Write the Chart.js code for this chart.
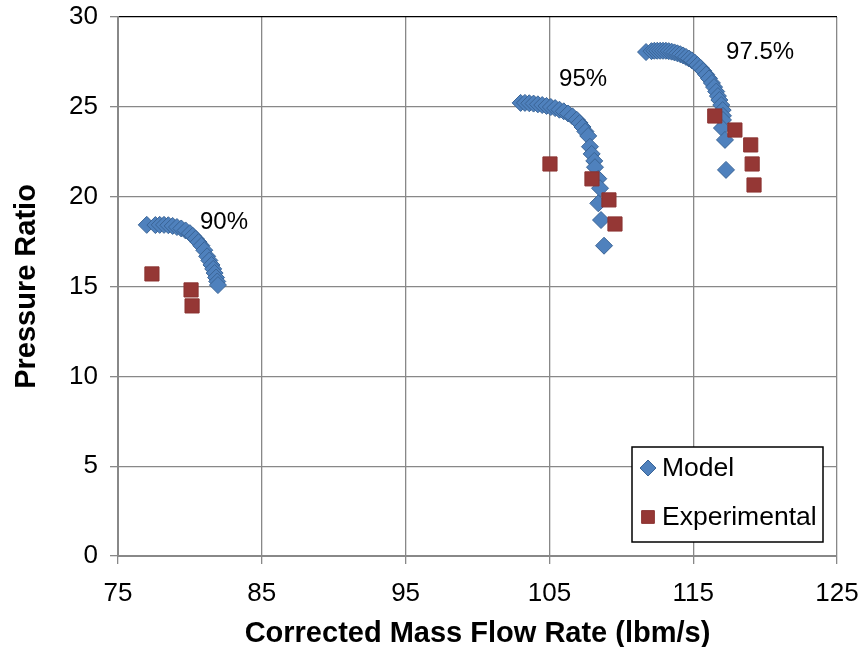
<!DOCTYPE html>
<html><head><meta charset="utf-8">
<script src="https://cdn.jsdelivr.net/npm/chart.js@4/dist/chart.umd.min.js"></script>
<style>html,body{margin:0;padding:0;background:#fff}</style>
</head><body>
<canvas id="c" width="861" height="647"></canvas>
<script>
// ---- Data ----
const model90X = [77.0, 77.6, 77.9, 78.2, 78.5, 78.8, 79.1, 79.4, 79.7, 80.0, 80.2, 80.4, 80.6, 80.8, 81.0, 81.2, 81.35, 81.5, 81.62, 81.72, 81.82, 81.9, 81.95];
const model90Y = [18.43, 18.42, 18.43, 18.43, 18.41, 18.37, 18.31, 18.23, 18.12, 17.97, 17.82, 17.66, 17.47, 17.27, 17.02, 16.68, 16.45, 16.2, 15.98, 15.75, 15.5, 15.28, 15.08];

const model95X = [103.0, 103.3, 103.6, 103.9, 104.2, 104.5, 104.8, 105.1, 105.4, 105.7, 106.0, 106.3, 106.6, 106.9, 107.1, 107.3, 107.5, 107.7, 107.82, 107.94, 108.12, 108.17, 108.4, 108.52, 108.4, 108.59, 108.8];
const model95Y = [25.22, 25.22, 25.2, 25.18, 25.14, 25.1, 25.05, 24.99, 24.93, 24.84, 24.75, 24.63, 24.47, 24.28, 24.1, 23.88, 23.63, 23.38, 22.78, 22.38, 21.99, 21.64, 21.0, 20.47, 19.63, 18.7, 17.27];

const model975X = [111.72, 112.1, 112.3, 112.5, 112.7, 112.9, 113.1, 113.3, 113.5, 113.7, 113.9, 114.1, 114.3, 114.5, 114.7, 114.9, 115.1, 115.3, 115.5, 115.7, 115.9, 116.1, 116.3, 116.45, 116.6, 116.72, 116.82, 116.95, 117.05, 117.07, 117.07, 117.0, 117.21, 117.28];
const model975Y = [28.05, 28.1, 28.12, 28.12, 28.12, 28.12, 28.12, 28.1, 28.07, 28.03, 27.98, 27.93, 27.86, 27.78, 27.69, 27.59, 27.47, 27.33, 27.18, 27.0, 26.8, 26.58, 26.33, 26.1, 25.85, 25.6, 25.38, 25.1, 24.82, 24.5, 24.27, 23.82, 23.16, 21.49];

const expX = [77.36, 80.08, 80.15, 105.04, 107.96, 109.14, 109.56, 116.5, 117.9, 119.0, 119.1, 119.23];
const expY = [15.70, 14.81, 13.92, 21.82, 20.99, 19.82, 18.48, 24.49, 23.71, 22.88, 21.82, 20.65];

const speedLabels = ["90%", "95%", "97.5%"];
const speedLabelX = [82.37, 107.34, 119.65];
const speedLabelY = [18.59, 26.55, 28.05];

const xTicks = [75, 85, 95, 105, 115, 125];
const yTicks = [0, 5, 10, 15, 20, 25, 30];
const seriesNames = ["Model", "Experimental"];

// ---- Build ----
function pts(xs, ys) { return xs.map((x, i) => ({x: x, y: ys[i]})); }
const modelPts = pts(model90X, model90Y).concat(pts(model95X, model95Y), pts(model975X, model975Y));
const expPts = pts(expX, expY);

const FONT = "'Liberation Sans', Arial, sans-serif";
const MODEL_FILL = '#4F81BD', MODEL_BORDER = '#3A6496';
const EXP_FILL = '#953735', EXP_BORDER = '#8A3230';

const overlay = {
  id: 'overlay',
  afterDraw(chart) {
    const ctx = chart.ctx, xs = chart.scales.x, ys = chart.scales.y;
    ctx.save();
    ctx.font = '24px ' + FONT;
    ctx.fillStyle = '#000';
    ctx.textAlign = 'center';
    ctx.textBaseline = 'middle';
    speedLabels.forEach((t, i) => {
      ctx.fillText(t, xs.getPixelForValue(speedLabelX[i]), ys.getPixelForValue(speedLabelY[i]));
    });
    const bx = 632, by = 447, bw = 191, bh = 95;
    ctx.fillStyle = '#fff';
    ctx.fillRect(bx, by, bw, bh);
    ctx.strokeStyle = '#000';
    ctx.lineWidth = 1.5;
    ctx.strokeRect(bx, by, bw, bh);
    ctx.fillStyle = MODEL_FILL; ctx.strokeStyle = MODEL_BORDER; ctx.lineWidth = 1;
    Chart.helpers.drawPoint(ctx, {pointStyle: 'rectRot', radius: 8, rotation: 0, borderWidth: 1}, bx + 16, by + 21);
    ctx.fillStyle = EXP_FILL; ctx.strokeStyle = EXP_BORDER;
    Chart.helpers.drawPoint(ctx, {pointStyle: 'rect', radius: 9, rotation: 0, borderWidth: 1}, bx + 16, by + 70);
    ctx.fillStyle = '#000';
    ctx.font = '26.5px ' + FONT;
    ctx.textAlign = 'left';
    ctx.fillText(seriesNames[0], bx + 30, by + 22);
    ctx.fillText(seriesNames[1], bx + 30, by + 71);
    ctx.restore();
  }
};

new Chart(document.getElementById('c'), {
  type: 'scatter',
  data: {
    datasets: [
      {label: seriesNames[0], data: modelPts, pointStyle: 'rectRot', pointRadius: 8.5, pointHoverRadius: 8.5,
       backgroundColor: MODEL_FILL, borderColor: MODEL_BORDER, borderWidth: 1, order: 2},
      {label: seriesNames[1], data: expPts, pointStyle: 'rect', pointRadius: 10, pointHoverRadius: 10,
       backgroundColor: EXP_FILL, borderColor: EXP_BORDER, borderWidth: 1, order: 1}
    ]
  },
  options: {
    responsive: false,
    animation: false,
    events: [],
    layout: {padding: {top: 17, right: 24, left: 0, bottom: 0}},
    plugins: {legend: {display: false}, tooltip: {enabled: false}},
    scales: {
      x: {
        type: 'linear', min: 75, max: 125,
        afterBuildTicks: s => { s.ticks = xTicks.map(v => ({value: v})); },
        afterFit: s => { s.height = 91; s.paddingLeft = 0; s.paddingRight = 0; },
        ticks: {color: '#000', font: {family: FONT, size: 26}, padding: 14},
        grid: {color: '#888', lineWidth: 1.3, tickLength: 8, tickColor: '#888'},
        border: {color: '#888', width: 2},
        title: {display: true, text: 'Corrected Mass Flow Rate (lbm/s)', color: '#000',
                font: {family: FONT, size: 29, weight: 'bold'}, padding: {top: 4, bottom: -4}}
      },
      y: {
        type: 'linear', min: 0, max: 30,
        afterBuildTicks: s => { s.ticks = yTicks.map(v => ({value: v})); },
        afterFit: s => { s.width = 118; s.paddingTop = 0; s.paddingBottom = 0; },
        ticks: {color: '#000', font: {family: FONT, size: 26}, padding: 12},
        grid: {color: ctx => (ctx.tick && ctx.tick.value === 30) ? '#000' : '#888', lineWidth: 1.3, tickLength: 8, tickColor: '#888'},
        border: {color: '#888', width: 2},
        title: {display: true, text: 'Pressure Ratio', color: '#000',
                font: {family: FONT, size: 29, weight: 'bold'}, padding: {top: 10, bottom: 0}}
      }
    }
  },
  plugins: [overlay]
});
</script>
</body></html>
